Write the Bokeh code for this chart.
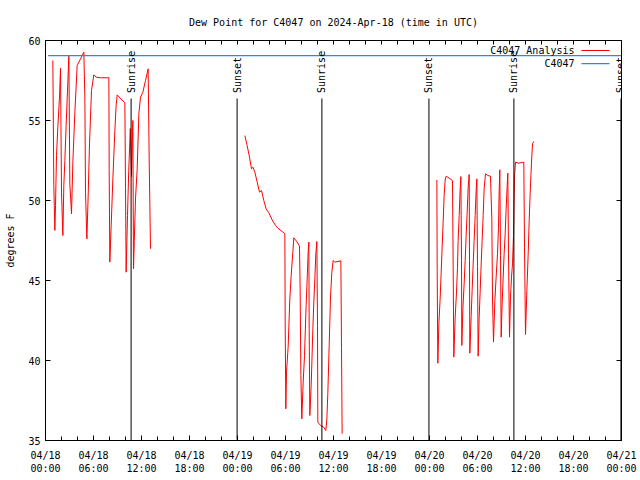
import math
from bokeh.plotting import figure
from bokeh.models import FixedTicker, LinearAxis, Range1d, Label
from bokeh.embed import file_html
from bokeh.resources import INLINE

FONT = "DejaVu Sans Mono"
FS = "10px"

chart_title = "Dew Point for C4047 on 2024-Apr-18 (time in UTC)"
y_label = "degrees F"

# time in hours since 2024-04-18 00:00 UTC
analysis_hours_1 = [0.917, 1.04, 1.17, 1.25, 1.375, 1.54, 1.75, 1.875, 2.0, 2.17, 2.29, 2.42, 2.58, 2.71, 2.92,
                    3.04, 3.25, 3.42, 3.67, 3.96, 4.375, 4.79, 4.92, 5.0, 5.17, 5.33, 5.5, 5.75, 6.04, 6.33,
                    6.875, 7.92, 7.96, 8.04, 8.21, 8.42, 8.67, 8.83, 8.96, 9.92, 10.0, 10.08, 10.25, 10.4,
                    10.6, 10.75, 10.92, 11.0, 11.1, 11.25, 11.46, 11.67, 11.875, 12.17, 12.5, 12.83, 12.96, 13.125]
analysis_vals_1 = [58.75, 50.94, 48.13, 49.69, 52.81, 54.58, 56.46, 58.27, 50.52, 47.81, 50.94, 52.5, 54.69, 56.35, 59.02,
                   51.04, 49.17, 52.4, 55.52, 58.44, 58.85, 59.27, 56.46, 50.52, 47.6, 50.21, 53.54, 56.875, 57.85, 57.71,
                   57.67, 57.67, 51.875, 46.15, 48.44, 51.35, 54.375, 55.94, 56.6, 56.1, 50.83, 45.52, 49.06, 51.8,
                   54.5, 51.5, 55.0, 45.73, 47.5, 50.1, 51.98, 55.42, 56.46, 56.77, 57.5, 58.23, 52.6, 46.98]

analysis_hours_2 = [24.92, 25.2, 25.5, 25.75, 25.92, 26.17, 26.46, 26.75, 27.0, 27.29, 27.58, 27.92, 28.33, 28.75,
                    29.0, 29.58, 29.92, 29.96, 30.04, 30.125, 30.33, 30.54, 30.71, 30.92, 31.04, 31.46, 31.75,
                    31.83, 31.92, 32.04, 32.21, 32.375, 32.58, 32.71, 32.83, 32.92, 32.96, 33.04, 33.21, 33.42,
                    33.54, 33.67, 33.79, 33.92, 34.0, 34.04, 34.375, 34.79, 35.04, 35.17, 35.29, 35.46, 35.625,
                    35.79, 35.96, 36.17, 36.92, 37.0, 37.08]
analysis_vals_2 = [54.06, 53.44, 52.71, 51.98, 52.08, 51.77, 51.15, 50.52, 50.625, 50.0, 49.48, 49.23, 48.79, 48.44,
                   48.29, 48.06, 47.92, 42.4, 36.98, 39.27, 40.83, 43.85, 45.31, 46.81, 47.67, 47.4, 47.15,
                   44.48, 39.06, 36.35, 38.65, 40.31, 43.44, 45.1, 46.77, 47.4, 41.98, 36.56, 38.44, 41.98,
                   43.65, 45.1, 46.67, 47.44, 42.19, 36.15, 35.94, 35.83, 35.625, 36.35, 37.92, 40.94, 43.96,
                   45.52, 46.25, 46.15, 46.23, 40.83, 35.42]

analysis_hours_3 = [48.92, 48.96, 49.04, 49.17, 49.33, 49.46, 49.58, 49.71, 49.83, 49.96, 50.08, 50.46, 50.875,
                    50.96, 51.04, 51.21, 51.375, 51.5, 51.58, 51.71, 51.83, 51.92, 52.0, 52.04, 52.17, 52.33,
                    52.46, 52.58, 52.71, 52.83, 52.96, 53.0, 53.04, 53.21, 53.33, 53.46, 53.58, 53.71, 53.83,
                    53.92, 54.0, 54.08, 54.21, 54.33, 54.46, 54.58, 54.71, 54.83, 55.0, 55.29, 55.625, 55.79,
                    55.875, 56.0, 56.17, 56.33, 56.5, 56.625, 56.71, 56.79, 56.875, 56.96, 57.08, 57.21, 57.33,
                    57.46, 57.58, 57.71, 57.79, 57.875, 58.0, 58.125, 58.25, 58.375, 58.5, 58.625, 58.75,
                    59.125, 59.79, 59.875, 60.0, 60.17, 60.33, 60.46, 60.58, 60.75, 60.875, 61.04]
analysis_vals_3 = [51.29, 45.625, 39.83, 42.29, 43.85, 45.52, 47.08, 48.71, 50.31, 51.29, 51.52, 51.4, 51.25,
                   45.79, 40.21, 42.71, 44.27, 45.83, 47.5, 49.06, 50.67, 51.5, 46.25, 40.94, 43.23, 44.79,
                   46.25, 47.81, 49.27, 50.79, 51.625, 46.25, 40.46, 42.81, 44.375, 46.04, 47.5, 49.06, 50.625,
                   51.35, 45.875, 40.27, 42.71, 44.27, 46.04, 47.5, 49.06, 50.73, 51.67, 51.56, 51.52, 48.85,
                   43.85, 41.15, 43.75, 45.21, 46.67, 48.33, 50.625, 51.92, 46.56, 41.46, 43.54, 45.21, 46.67,
                   47.92, 49.48, 50.94, 51.71, 46.67, 41.46, 43.96, 45.21, 46.04, 47.81, 51.46, 52.4,
                   52.33, 52.4, 47.08, 41.625, 44.375, 46.56, 48.75, 50.42, 52.4, 53.54, 53.69]

obs_hours = [0.33, 72.0]
obs_vals = [59.06, 59.06]

sun_hours = [10.7, 23.95, 34.55, 47.93, 58.55, 71.93]
sun_labels = ["Sunrise", "Sunset", "Sunrise", "Sunset", "Sunrise", "Sunset"]

x_tick_hours = [0, 6, 12, 18, 24, 30, 36, 42, 48, 54, 60, 66, 72]
x_tick_labels = ["04/18\n00:00", "04/18\n06:00", "04/18\n12:00", "04/18\n18:00",
                 "04/19\n00:00", "04/19\n06:00", "04/19\n12:00", "04/19\n18:00",
                 "04/20\n00:00", "04/20\n06:00", "04/20\n12:00", "04/20\n18:00", "04/21\n00:00"]
x_minor_hours = [0, 2, 4, 6, 8, 10, 12, 14, 16, 18, 20, 22, 24, 26, 28, 30, 32, 34, 36, 38, 40, 42, 44,
                 46, 48, 50, 52, 54, 56, 58, 60, 62, 64, 66, 68, 70, 72]
y_ticks = [35, 40, 45, 50, 55, 60]

legend_names = ["C4047 Analysis", "C4047"]
RED = "#ff0000"
BLUE = "#1a8cff"

X0, X1, Y0, Y1 = 0, 72, 35, 60

p = figure(frame_width=576, frame_height=400, x_range=Range1d(X0, X1), y_range=Range1d(Y0, Y1),
           output_backend="svg", toolbar_location=None,
           min_border_left=45, min_border_right=19, min_border_top=40, min_border_bottom=40)
p.background_fill_color = "white"
p.border_fill_color = "white"
p.outline_line_color = "black"
p.outline_line_width = 1
p.grid.visible = False

p.title.text = chart_title
p.title.align = "center"
p.title.text_font = FONT
p.title.text_font_size = FS
p.title.text_font_style = "normal"
p.title.text_color = "black"
p.title.standoff = 26

xt = FixedTicker(ticks=x_tick_hours, minor_ticks=x_minor_hours)
yt = FixedTicker(ticks=y_ticks, minor_ticks=[])

p.xaxis.ticker = xt
p.xaxis.major_label_overrides = {h: lab for h, lab in zip(x_tick_hours, x_tick_labels)}
p.yaxis.ticker = yt
p.yaxis.axis_label = y_label

for ax in [p.xaxis[0], p.yaxis[0]]:
    ax.major_label_text_font = FONT
    ax.major_label_text_font_size = FS
    ax.major_label_text_color = "black"
    ax.axis_label_text_font = FONT
    ax.axis_label_text_font_size = FS
    ax.axis_label_text_font_style = "normal"
    ax.axis_label_text_color = "black"
    ax.axis_line_color = "black"
    ax.major_tick_line_color = "black"
    ax.minor_tick_line_color = "black"
    ax.major_tick_out = 0
    ax.major_tick_in = 5
    ax.minor_tick_out = 0
    ax.minor_tick_in = 4
p.xaxis.major_label_standoff = 9
p.yaxis.major_label_standoff = 5
p.yaxis.axis_label_standoff = 9

# mirrored ticks on top and right (drawn as minor ticks: no labels)
top_ax = LinearAxis(ticker=FixedTicker(ticks=[], minor_ticks=x_minor_hours),
                    major_tick_in=0, major_tick_out=0, minor_tick_in=4, minor_tick_out=0,
                    major_label_standoff=0, axis_line_color="black", minor_tick_line_color="black")
right_ax = LinearAxis(ticker=FixedTicker(ticks=[], minor_ticks=y_ticks),
                      major_tick_in=0, major_tick_out=0, minor_tick_in=5, minor_tick_out=0,
                      major_label_standoff=0, axis_line_color="black", minor_tick_line_color="black")
p.add_layout(top_ax, "above")
p.add_layout(right_ax, "right")

# analysis line segments (gaps where no data)
nan = float("nan")
all_h = analysis_hours_1 + [nan] + analysis_hours_2 + [nan] + analysis_hours_3
all_v = analysis_vals_1 + [nan] + analysis_vals_2 + [nan] + analysis_vals_3
p.line(all_h, all_v, line_color=RED, line_width=1)

# observed
p.line(obs_hours, obs_vals, line_color=BLUE, line_width=1.3)

# sunrise / sunset markers
p.segment(x0=sun_hours, y0=[Y0] * len(sun_hours), x1=sun_hours, y1=[56.375] * len(sun_hours),
          line_color="black", line_width=1)
for h, lab in zip(sun_hours, sun_labels):
    p.add_layout(Label(x=h, y=56.72, text=lab, angle=math.pi / 2, text_align="left",
                       text_baseline="middle", text_font=FONT, text_font_size=FS, text_color="black"))

# legend (text left of sample line, as in gnuplot)
leg_y = [59.375, 58.56]
leg_colors = [RED, BLUE]
leg_widths = [1, 1.3]
for name, yy, col, lw in zip(legend_names, leg_y, leg_colors, leg_widths):
    p.add_layout(Label(x=66.125, y=yy, text=name, text_align="right", text_baseline="middle",
                       text_font=FONT, text_font_size=FS, text_color="black"))
    p.line([67.0, 70.5], [yy, yy], line_color=col, line_width=lw)

open("out.html", "w").write(file_html(p, INLINE))
